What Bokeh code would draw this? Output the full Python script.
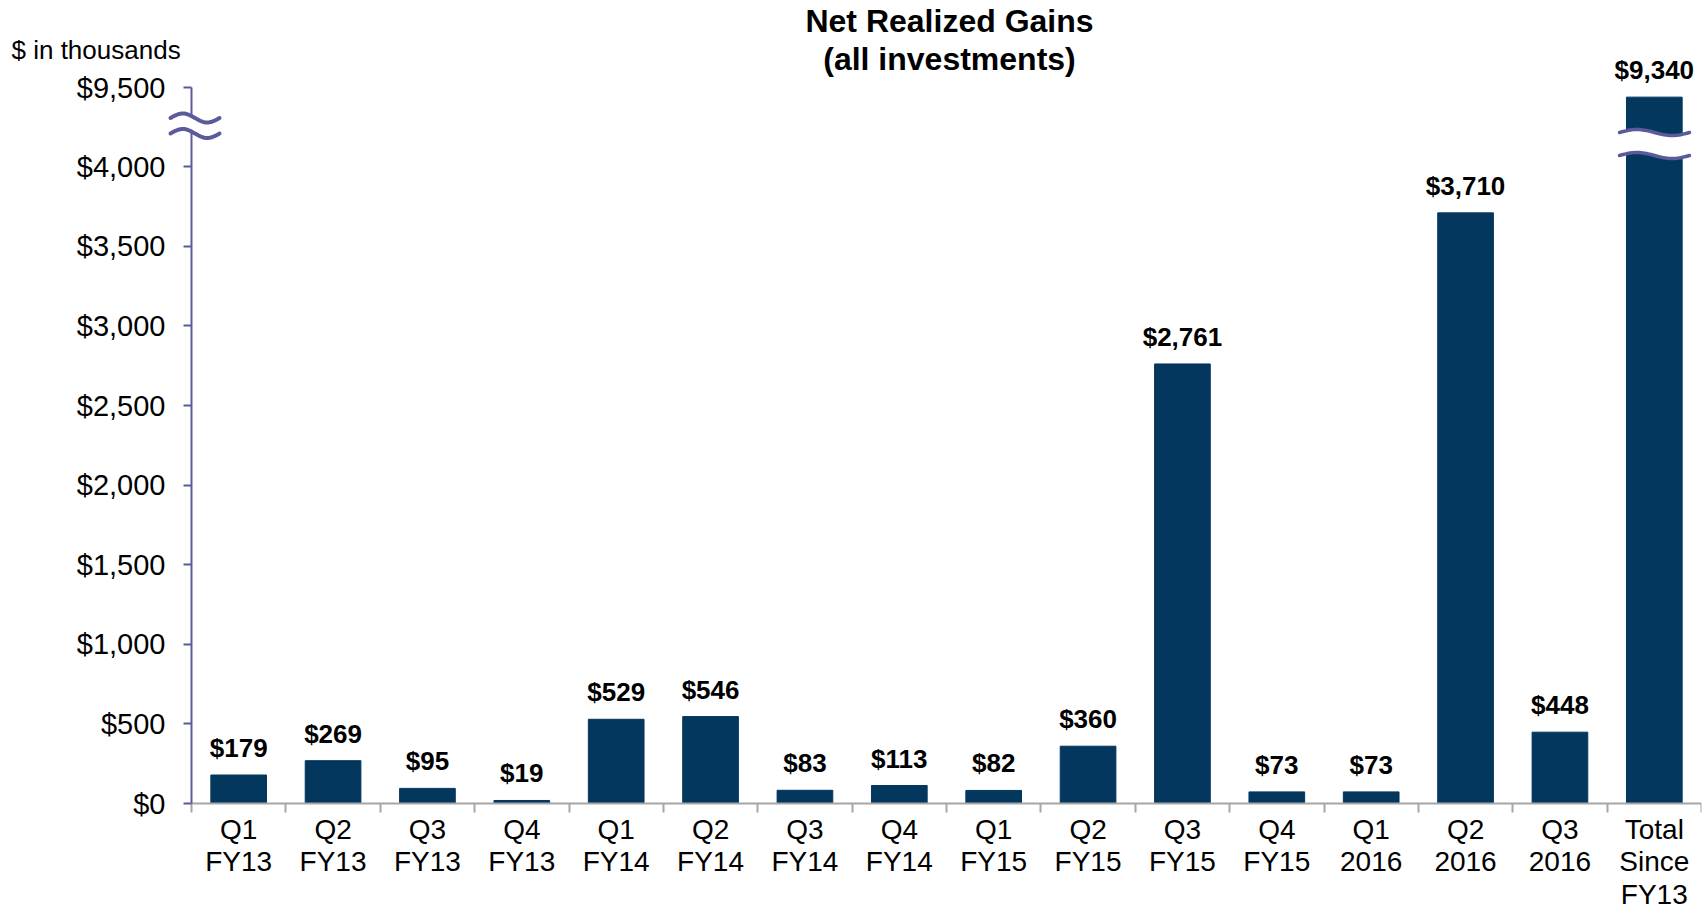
import numpy as np
from bokeh.plotting import figure
from bokeh.models import FixedTicker, NumeralTickFormatter, Label, PolyAnnotation, Range1d
from bokeh.embed import file_html
from bokeh.resources import INLINE
from bokeh.core.properties import value

# ---------------- data ----------------
categories = ["Q1\nFY13", "Q2\nFY13", "Q3\nFY13", "Q4\nFY13",
              "Q1\nFY14", "Q2\nFY14", "Q3\nFY14", "Q4\nFY14",
              "Q1\nFY15", "Q2\nFY15", "Q3\nFY15", "Q4\nFY15",
              "Q1\n2016", "Q2\n2016", "Q3\n2016", "Total\nSince\nFY13"]
gains = [179, 269, 95, 19, 529, 546, 83, 113, 82, 360, 2761, 73, 73, 3710, 448, 9340]
y_tick_values = [0, 500, 1000, 1500, 2000, 2500, 3000, 3500, 4000, 9500]

title_lines = ["Net Realized Gains", "(all investments)"]
unit_note = "$ in thousands"

# ---------------- broken-axis mapping ----------------
BREAK_LOW = 4000      # values up to here are drawn linearly
TOP_VALUE = 9500      # value shown at the top tick
TOP_POS = 4495        # axis position of the top tick
UPPER_SCALE = 0.3625  # compression of the upper segment


def to_axis(v):
    return v if v <= BREAK_LOW else TOP_POS - (TOP_VALUE - v) * UPPER_SCALE


# ---------------- geometry / style ----------------
W, H = 1702, 916
AXIS_LEFT_PX = 191          # where the value axis sits
FRAME_RIGHT_PX = 1701
BASE_PX = 803               # where the category axis sits
n = len(categories)
PX_PER_CAT = (FRAME_RIGHT_PX - AXIS_LEFT_PX) / n
X_START = -AXIS_LEFT_PX / PX_PER_CAT
PX_PER_UNIT = 0.1592


def scr(y):
    """screen y (px) -> axis units, for decorations and notes"""
    return (BASE_PX - y) / PX_PER_UNIT


def scx(x):
    """screen x (px) -> category units"""
    return (x - AXIS_LEFT_PX) / PX_PER_CAT


FONT = "Liberation Sans"
BAR_COLOR = "#04375E"
AXIS_PURPLE = "#5B5B9C"
AXIS_GREY = "#A6A6A6"

centers = [i + 0.5 for i in range(n)]
tops = [to_axis(v) for v in gains]
labels = ["${:,}".format(v) for v in gains]

p = figure(width=W, height=H, output_backend="svg", toolbar_location=None,
           x_range=Range1d(X_START, n),
           y_range=Range1d(-(H - BASE_PX) / PX_PER_UNIT, BASE_PX / PX_PER_UNIT),
           min_border_left=0, min_border_right=W - FRAME_RIGHT_PX, min_border_top=0,
           min_border_bottom=0)
p.outline_line_color = None
p.xgrid.grid_line_color = None
p.ygrid.grid_line_color = None
p.background_fill_color = "white"

# bars
p.vbar(x=centers, top=tops, bottom=0, width=0.59,
       fill_color=BAR_COLOR, line_color=BAR_COLOR)

# value labels
p.text(x=centers, y=tops, text=labels, text_font=value(FONT),
       text_font_style="bold", text_font_size="26px", text_align="center",
       text_baseline="middle", y_offset=-27, text_color="black")

# y axis (fixed at x = 0)
tick_pos = [to_axis(v) for v in y_tick_values]
yax = p.yaxis[0]
yax.fixed_location = 0
yax.ticker = FixedTicker(ticks=tick_pos, minor_ticks=[])
yax.formatter = NumeralTickFormatter(format="$0,0")
yax.major_label_overrides = {to_axis(TOP_VALUE): "${:,}".format(TOP_VALUE)}
yax.bounds = (0, TOP_POS)
yax.axis_line_color = AXIS_PURPLE
yax.axis_line_width = 2
yax.major_tick_line_color = AXIS_PURPLE
yax.major_tick_line_width = 2
yax.major_tick_out = 8
yax.major_tick_in = 0
yax.minor_tick_line_color = None
yax.major_label_text_font = FONT
yax.major_label_text_font_size = "29px"
yax.major_label_text_color = "black"
yax.major_label_standoff = 18

# x axis (fixed at y = 0)
xax = p.xaxis[0]
xax.fixed_location = 0
xax.bounds = (0, n)
xax.ticker = FixedTicker(ticks=centers, minor_ticks=list(range(n + 1)))
xax.major_label_overrides = {c: lab for c, lab in zip(centers, categories)}
xax.axis_line_color = AXIS_GREY
xax.axis_line_width = 2
xax.major_tick_line_color = None
xax.minor_tick_line_color = AXIS_GREY
xax.minor_tick_line_width = 2
xax.minor_tick_out = 9
xax.minor_tick_in = 0
xax.major_label_text_font = FONT
xax.major_label_text_font_size = "28px"
xax.major_label_text_color = "black"
xax.major_label_text_line_height = 1.05
xax.major_label_standoff = 1

# titles
p.add_layout(Label(x=scx(949), y=scr(20), text=title_lines[0], text_align="center",
                   text_baseline="middle", text_font=FONT, text_font_size="32px",
                   text_font_style="bold", text_color="black"))
p.add_layout(Label(x=scx(949), y=scr(58), text=title_lines[1], text_align="center",
                   text_baseline="middle", text_font=FONT, text_font_size="32px",
                   text_font_style="bold", text_color="black"))
p.add_layout(Label(x=scx(11), y=scr(49), text=unit_note, text_align="left",
                   text_baseline="middle", text_font=FONT, text_font_size="26px",
                   text_color="black"))


# ---------------- axis-break decorations ----------------
def wave(x0, x1, yc_px, amp_px, npts=40):
    t = np.linspace(0, 1, npts)
    xs = [scx(x0 + (x1 - x0) * tt) for tt in t]
    ys = [scr(yc_px - amp_px * np.sin(2 * np.pi * tt)) for tt in t]
    return xs, ys


def add_break(x0, x1, top_yc, bot_yc, amp, lw):
    tx, ty = wave(x0, x1, top_yc, amp)
    bx, by = wave(x0, x1, bot_yc, amp)
    p.add_layout(PolyAnnotation(xs=tx + bx[::-1], ys=ty + by[::-1],
                                fill_color="white", fill_alpha=1.0,
                                line_color=None, level="overlay"))
    for xs, ys in ((tx, ty), (bx, by)):
        p.add_layout(PolyAnnotation(xs=xs + xs[::-1], ys=ys + ys[::-1],
                                    fill_alpha=0, line_color=AXIS_PURPLE,
                                    line_alpha=1.0, line_width=lw,
                                    line_join="round", level="overlay"))


add_break(170, 219, 117.5, 133.0, 4.5, 4)
add_break(1619, 1689, 132.0, 155.0, 3.0, 3.5)

open("out.html", "w").write(file_html(p, INLINE))
